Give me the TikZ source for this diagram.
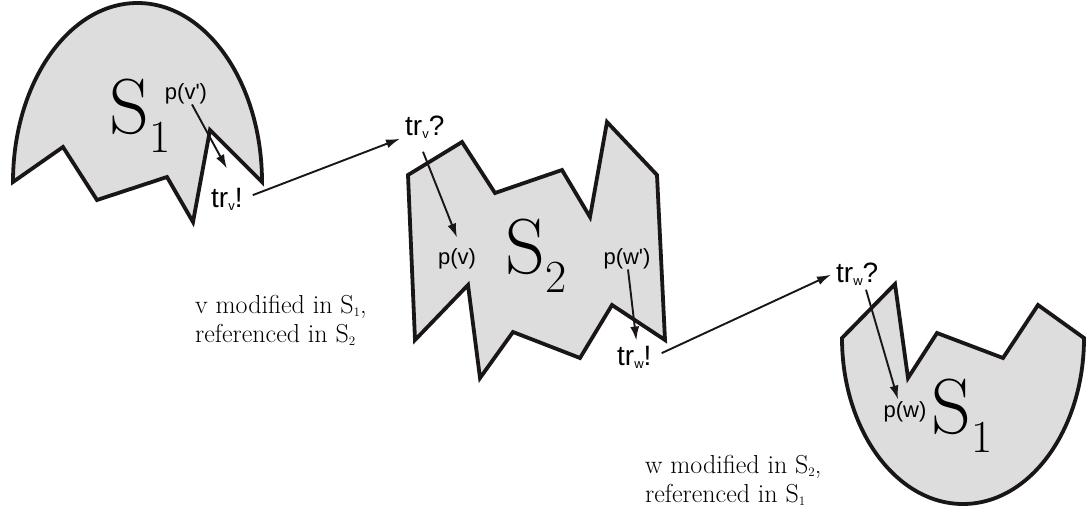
\documentclass[tikz,border=0pt]{standalone}
\usepackage{fontspec}
\newfontfamily\arialf{Liberation Sans}
\usetikzlibrary{arrows.meta}
\definecolor{shapefill}{RGB}{221,221,221}
\definecolor{ink}{RGB}{26,22,22}
\newcommand\bigsubscr[1]{\raisebox{-19pt}{\fontsize{46}{46}\selectfont #1}}
\newcommand\smallsubscr[1]{\raisebox{-3.5pt}{\fontsize{13}{13}\selectfont #1}}
\tikzset{
  region/.style={draw=ink, fill=shapefill, line width=3.8pt, line join=miter},
  conn/.style={draw=ink, line width=1.9pt, -{Latex[length=14pt,width=9pt]}},
  biglabel/.style={inner sep=0pt, anchor=base west, font=\fontsize{78}{78}\selectfont},
  plabel/.style={inner sep=0pt, font=\arialf\fontsize{22}{22}\selectfont},
  trlabel/.style={inner sep=0pt, anchor=base west, font=\arialf\fontsize{28}{28}\selectfont},
  caption/.style={inner sep=0pt, anchor=north west, align=left, font=\fontsize{26}{29}\selectfont},
}
\begin{document}
\begin{tikzpicture}[x=1pt,y=-1pt]
\useasboundingbox (0,0) rectangle (1087,509);
% S1 (top left)
\draw[region] (13,182) arc[start angle=180,end angle=0,x radius=124.5pt,y radius=179pt]
  -- (210,130) -- (193,222) -- (167,177) -- (97,200) -- (63,147) -- cycle;
% S2
\draw[region] (408,175) -- (462,142) -- (495,193) -- (562,170) -- (590,217) -- (607,122)
  -- (657,175) -- (665,340) -- (612,305) -- (580,358) -- (513,332) -- (480,378)
  -- (468,285) -- (415,340) -- cycle;
% S1 (bottom right)
\draw[region] (842,338) -- (895,284) -- (908,378) -- (937,333) -- (1003,358) -- (1038,305)
  -- (1084,338) arc[start angle=0,end angle=-180,x radius=121pt,y radius=166pt] -- cycle;

% big labels
\node[biglabel] (sa) at (109,133) {S\bigsubscr{1}};
\node[biglabel] (sb) at (505,273) {S\bigsubscr{2}};
\node[biglabel] (sc) at (931,433) {S\bigsubscr{1}};

% small labels
\node[plabel] (pvp) at (186,94) {p(v')};
\node[trlabel] (trv) at (211,207) {tr\smallsubscr{v}!};
\node[trlabel] (trvq) at (405,135) {tr\smallsubscr{v}?};
\node[plabel] (pv) at (457,259) {p(v)};
\node[plabel] (pwp) at (627,259) {p(w')};
\node[trlabel] (trw) at (617,365) {tr\smallsubscr{w}!};
\node[trlabel] (trwq) at (836,282) {tr\smallsubscr{w}?};
\node[plabel] (pw) at (905,412) {p(w)};

% captions
\node[caption] (capa) at (195,295) {v modified in S\smallsubscr{1},\\referenced in S\smallsubscr{2}};
\node[caption] (capb) at (645,455) {w modified in S\smallsubscr{2},\\referenced in S\smallsubscr{1}};

% connectors
\draw[conn] ([xshift=6pt]pvp.south) -- ([yshift=19pt]trv.north);
\draw[conn] ([xshift=10pt,yshift=4pt]trv.east) -- ([xshift=-5pt]trvq.south west);
\draw[conn] ([xshift=18pt,yshift=-13pt]trvq.south west) -- ([yshift=11pt]pv.north);
\draw[conn] ([xshift=1pt]pwp.south) -- ([xshift=2pt,yshift=5pt]trw.north);
\draw[conn] ([xshift=10pt,yshift=4pt]trw.east) -- ([xshift=-5pt,yshift=11pt]trwq.south west);
\draw[conn] ([xshift=30pt,yshift=-4pt]trwq.south west) -- ([xshift=-7pt,yshift=2pt]pw.north);
\end{tikzpicture}
\end{document}
